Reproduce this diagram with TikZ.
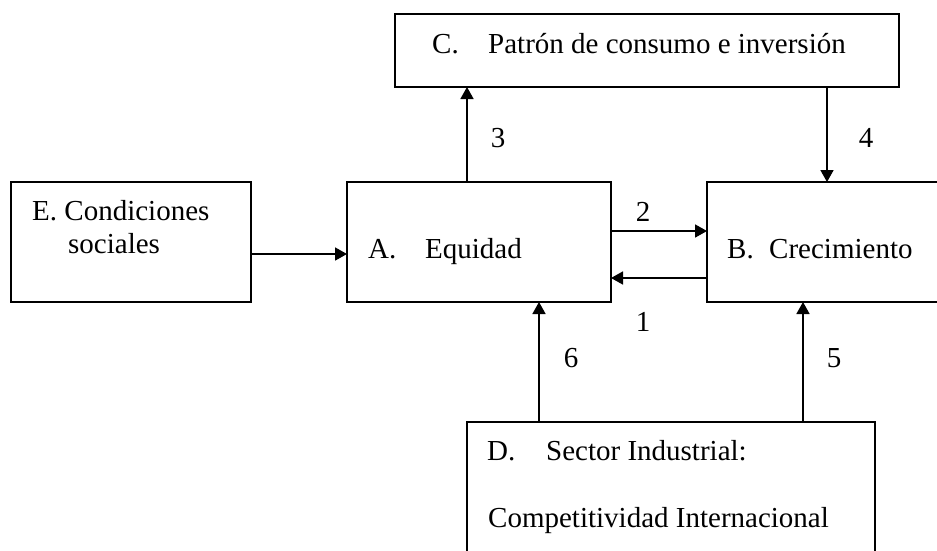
\documentclass[tikz,border=0pt]{standalone}
\usepackage{fontspec}
\setmainfont{Liberation Serif}
\usetikzlibrary{arrows.meta}
\begin{document}
\begin{tikzpicture}[x=1pt,y=-1pt,
  box/.style={draw=black,line width=1.7pt,rectangle,inner sep=0pt,outer sep=0pt},
  arr/.style={line width=1.7pt,-{Triangle[length=12pt,width=13pt]}},
  txt/.style={inner sep=0pt,anchor=base west,font=\fontsize{29}{33}\selectfont},
  lbl/.style={inner sep=0pt,font=\fontsize{29}{33}\selectfont}]
\clip (0,0) rectangle (937,550);
\fill[white] (0,0) rectangle (937,550);
% boxes
\node[box,minimum width=504pt,minimum height=73pt] (C) at (647,50.5) {};
\node[box,minimum width=240pt,minimum height=120pt] (E) at (131,242) {};
\node[box,minimum width=264pt,minimum height=120pt] (A) at (479,242) {};
\node[box,minimum width=253pt,minimum height=120pt] (B) at (833.5,242) {};
\node[box,minimum width=408pt,minimum height=158pt] (D) at (671,501) {};
% texts
\node[txt] (tC1) at (432,53) {C.};
\node[txt] (tC2) at (488,53) {Patrón de consumo e inversión};
\node[txt] (tE1) at (32,220) {E. Condiciones};
\node[txt] (tE2) at (68,253) {sociales};
\node[txt] (tA1) at (368,258) {A.};
\node[txt] (tA2) at (425,258) {Equidad};
\node[txt] (tB1) at (727,258) {B.};
\node[txt] (tB2) at (769,258) {Crecimiento};
\node[txt] (tD1) at (487,460) {D.};
\node[txt] (tD2) at (546,460) {Sector Industrial:};
\node[txt] (tD3) at (488,527) {Competitividad Internacional};
% connectors
\draw[arr] (E.east |- 0,254) -- (A.west |- 0,254);
\draw[arr] (A.east |- 0,231) -- (B.west |- 0,231);
\draw[arr] (B.west |- 0,278) -- (A.east |- 0,278);
\draw[arr] (A.north -| 467,0) -- (C.south -| 467,0);
\draw[arr] (C.south -| 827,0) -- (B.north -| 827,0);
\draw[arr] (D.north -| 539,0) -- (A.south -| 539,0);
\draw[arr] (D.north -| 803,0) -- (B.south -| 803,0);
% labels
\node[lbl] (l1) at (643,322) {1};
\node[lbl] (l2) at (643,212) {2};
\node[lbl] (l3) at (498,138) {3};
\node[lbl] (l4) at (866,138) {4};
\node[lbl] (l5) at (834,358) {5};
\node[lbl] (l6) at (571,358) {6};
\end{tikzpicture}
\end{document}
